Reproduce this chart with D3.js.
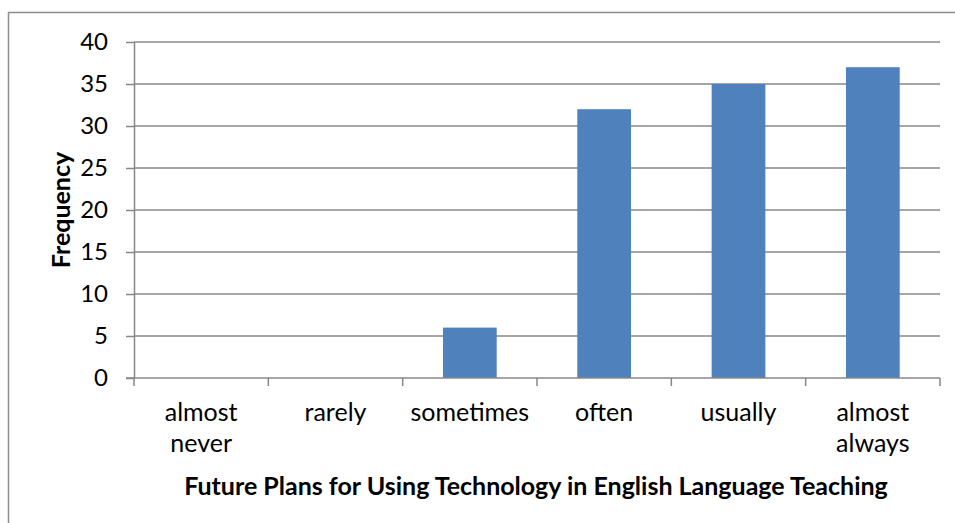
<!DOCTYPE html>
<html>
<head>
<meta charset="utf-8">
<script src="https://cdn.jsdelivr.net/npm/d3@7"></script>
<style>
  html, body { margin: 0; padding: 0; background: #fff; }
  svg { display: block; font-family: Lato, "Open Sans", sans-serif; }
</style>
</head>
<body>
<svg id="chart" width="955" height="523"></svg>
<script>
// Survey responses: how often teachers plan to use technology
const categories = [["almost", "never"], ["rarely"], ["sometimes"], ["often"], ["usually"], ["almost", "always"]];
const frequencies = [0, 0, 6, 32, 35, 37];
const yTicks = [0, 5, 10, 15, 20, 25, 30, 35, 40];
const xTitle = "Future Plans for Using Technology in English Language Teaching";
const yTitle = "Frequency";

const svg = d3.select("#chart");
const W = 955, H = 523;
const plot = { left: 134, right: 940, top: 42, bottom: 378 };
const gridColor = "#878787";
const fontSize = 25;

// outer chart frame (extends past the right and bottom edges)
svg.append("rect")
  .attr("x", 8.5).attr("y", 12.5)
  .attr("width", W).attr("height", H)
  .attr("fill", "none").attr("stroke", "#8c8c8c").attr("stroke-width", 1.5);

const labels = categories.map(c => c.join(" "));
const x = d3.scaleBand().domain(labels).range([plot.left, plot.right]).paddingInner(0).paddingOuter(0);
const y = d3.scaleLinear().domain([0, 40]).range([plot.bottom, plot.top]);

// horizontal gridlines
svg.append("g").selectAll("line").data(yTicks.filter(t => t > 0)).join("line")
  .attr("x1", plot.left).attr("x2", plot.right)
  .attr("y1", d => y(d)).attr("y2", d => y(d))
  .attr("stroke", gridColor).attr("stroke-width", 1.5);

// bars (Excel-style gap width 150%)
const barW = x.bandwidth() / 2.5;
svg.append("g").selectAll("rect").data(frequencies).join("rect")
  .attr("x", (d, i) => x(labels[i]) + (x.bandwidth() - barW) / 2)
  .attr("width", barW)
  .attr("y", d => y(d))
  .attr("height", d => y(0) - y(d))
  .attr("fill", "#4F81BD");

// y axis
const yAxis = svg.append("g")
  .attr("transform", `translate(${plot.left},0)`)
  .call(d3.axisLeft(y).tickValues(yTicks).tickSize(8).tickPadding(18).tickSizeOuter(0));
yAxis.select(".domain").attr("stroke", gridColor).attr("stroke-width", 1.5);
yAxis.selectAll(".tick line").attr("stroke", gridColor).attr("stroke-width", 1.5);
yAxis.selectAll(".tick text").attr("font-size", 24).attr("fill", "#000").attr("font-family", "Lato, 'Open Sans', sans-serif");

// x axis line and category separators
const xAxisG = svg.append("g");
xAxisG.append("line")
  .attr("x1", plot.left - 8).attr("x2", plot.right)
  .attr("y1", y(0)).attr("y2", y(0))
  .attr("stroke", gridColor).attr("stroke-width", 1.5);
const edges = labels.map(l => x(l)).concat([x(labels[labels.length - 1]) + x.bandwidth()]);
xAxisG.selectAll("line.sep").data(edges).join("line").attr("class", "sep")
  .attr("x1", d => d).attr("x2", d => d)
  .attr("y1", y(0)).attr("y2", y(0) + 8)
  .attr("stroke", gridColor).attr("stroke-width", 1.5);

// category labels (wrapped over two lines where needed)
const catText = xAxisG.selectAll("text.cat").data(categories).join("text").attr("class", "cat")
  .attr("text-anchor", "middle")
  .attr("font-size", fontSize)
  .attr("fill", "#000");
catText.each(function(lines, i) {
  const cx = x(labels[i]) + x.bandwidth() / 2;
  d3.select(this).selectAll("tspan").data(lines).join("tspan")
    .attr("x", cx)
    .attr("y", (d, j) => 421 + j * 31)
    .text(d => d);
});

// axis titles
svg.append("text")
  .attr("x", 536).attr("y", 495)
  .attr("text-anchor", "middle")
  .attr("font-size", fontSize).attr("font-weight", "bold").attr("fill", "#000")
  .text(xTitle);
svg.append("text")
  .attr("transform", `translate(70,${(plot.top + plot.bottom) / 2}) rotate(-90)`)
  .attr("text-anchor", "middle")
  .attr("font-size", fontSize).attr("font-weight", "bold").attr("fill", "#000")
  .text(yTitle);
</script>
</body>
</html>
